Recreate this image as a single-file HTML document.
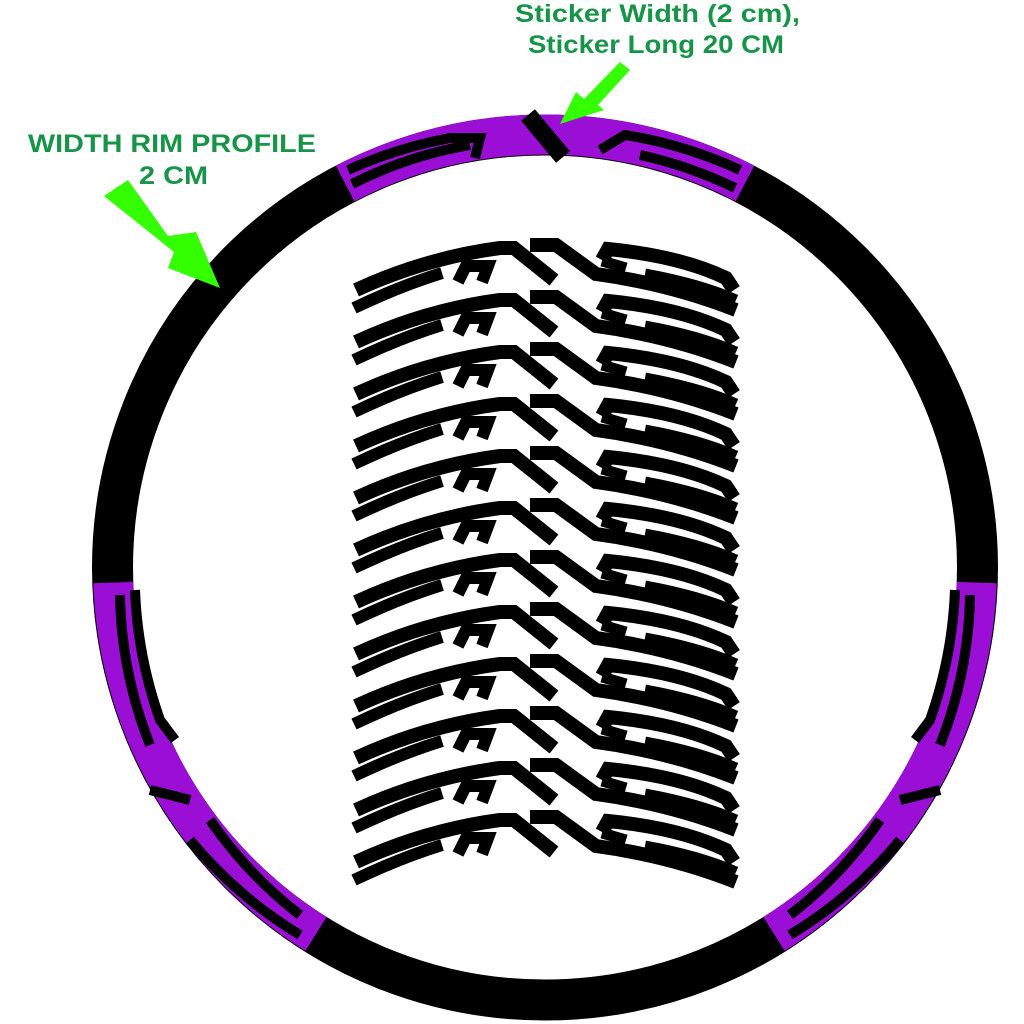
<!DOCTYPE html>
<html><head><style>html,body{margin:0;padding:0;background:#fff}svg{display:block}</style></head>
<body>
<svg width="1024" height="1024" viewBox="0 0 1024 1024" xmlns="http://www.w3.org/2000/svg">
<defs>
<g id="st" fill="none" stroke="#000" stroke-width="14" stroke-linejoin="miter">
  <path d="M16,60 Q85,28 160,18 L174,18 L214,50"/>
  <path d="M14,78 Q60,56 102,43" stroke-width="12"/>
  <path d="M118,52 L126,36 L148,36 L142,52" stroke-width="12"/>
  <path d="M190,15 L216,15 L256,44 Q330,54 396,80"/>
  <path d="M262,30 L268,19 Q340,26 386,48 L394,60"/>
  <path d="M262,31 L286,38" stroke-width="11"/>
  <path d="M305,44 Q360,54 396,70" stroke-width="11"/>
</g>
</defs>
<circle cx="545" cy="567.5" r="432.5" fill="none" stroke="#000" stroke-width="41"/>
<g fill="none" stroke="#9a0ed6" stroke-width="40">
  <path d="M345.1 183.5 A432 432 0 0 1 744.9 183.5"/>
  <path d="M113.3 582.6 A432 432 0 0 0 316 933.9"/>
  <path d="M976.7 582.6 A432 432 0 0 1 774 933.9"/>
</g>
<g fill="none" stroke="#000" stroke-width="10">
  <path d="M352 184 A420 420 0 0 1 470 145"/>
  <path d="M348 170 A440 440 0 0 1 450 138 L480 138 L475 158"/>
  <path d="M528 115 L563 157" stroke-width="18"/>
  <path d="M600 150 L625 135 A440 440 0 0 1 740 170"/>
  <path d="M640 155 A420 420 0 0 1 735 188"/>
  <path d="M120 595 A425 425 0 0 0 150 745"/>
  <path d="M135 590 A440 440 0 0 0 160 720 L175 740"/>
  <path d="M150 790 L190 800"/>
  <path d="M190 840 A440 440 0 0 0 300 935"/>
  <path d="M210 820 A425 425 0 0 0 300 915"/>
  <path d="M970 595 A425 425 0 0 1 940 745"/>
  <path d="M955 590 A440 440 0 0 1 930 720 L915 740"/>
  <path d="M940 790 L900 800"/>
  <path d="M900 840 A440 440 0 0 1 790 935"/>
  <path d="M880 820 A425 425 0 0 1 790 915"/>
</g>
<g transform="translate(340,230)">
  <use href="#st" y="0"/><use href="#st" y="52"/><use href="#st" y="104"/><use href="#st" y="156"/>
  <use href="#st" y="208"/><use href="#st" y="260"/><use href="#st" y="312"/><use href="#st" y="364"/>
  <use href="#st" y="416"/><use href="#st" y="468"/><use href="#st" y="520"/><use href="#st" y="572"/>
</g>
<g fill="#33ff00">
  <polygon points="620,62 630,70 598,105 604,110 560,124 576,92 584,99"/>
  <polygon points="104,196 128,180 168,236 196,232 220,288 168,268 174,252"/>
</g>
<g font-family="Liberation Sans, sans-serif" font-weight="bold" font-size="25" fill="#169447">
  <text x="515" y="22" textLength="285" lengthAdjust="spacingAndGlyphs">Sticker Width (2 cm),</text>
  <text x="528" y="53" textLength="256" lengthAdjust="spacingAndGlyphs">Sticker Long 20 CM</text>
  <text x="28" y="152" textLength="288" lengthAdjust="spacingAndGlyphs">WIDTH RIM PROFILE</text>
  <text x="139" y="184" textLength="69" lengthAdjust="spacingAndGlyphs">2 CM</text>
</g>
</svg>
</body></html>
